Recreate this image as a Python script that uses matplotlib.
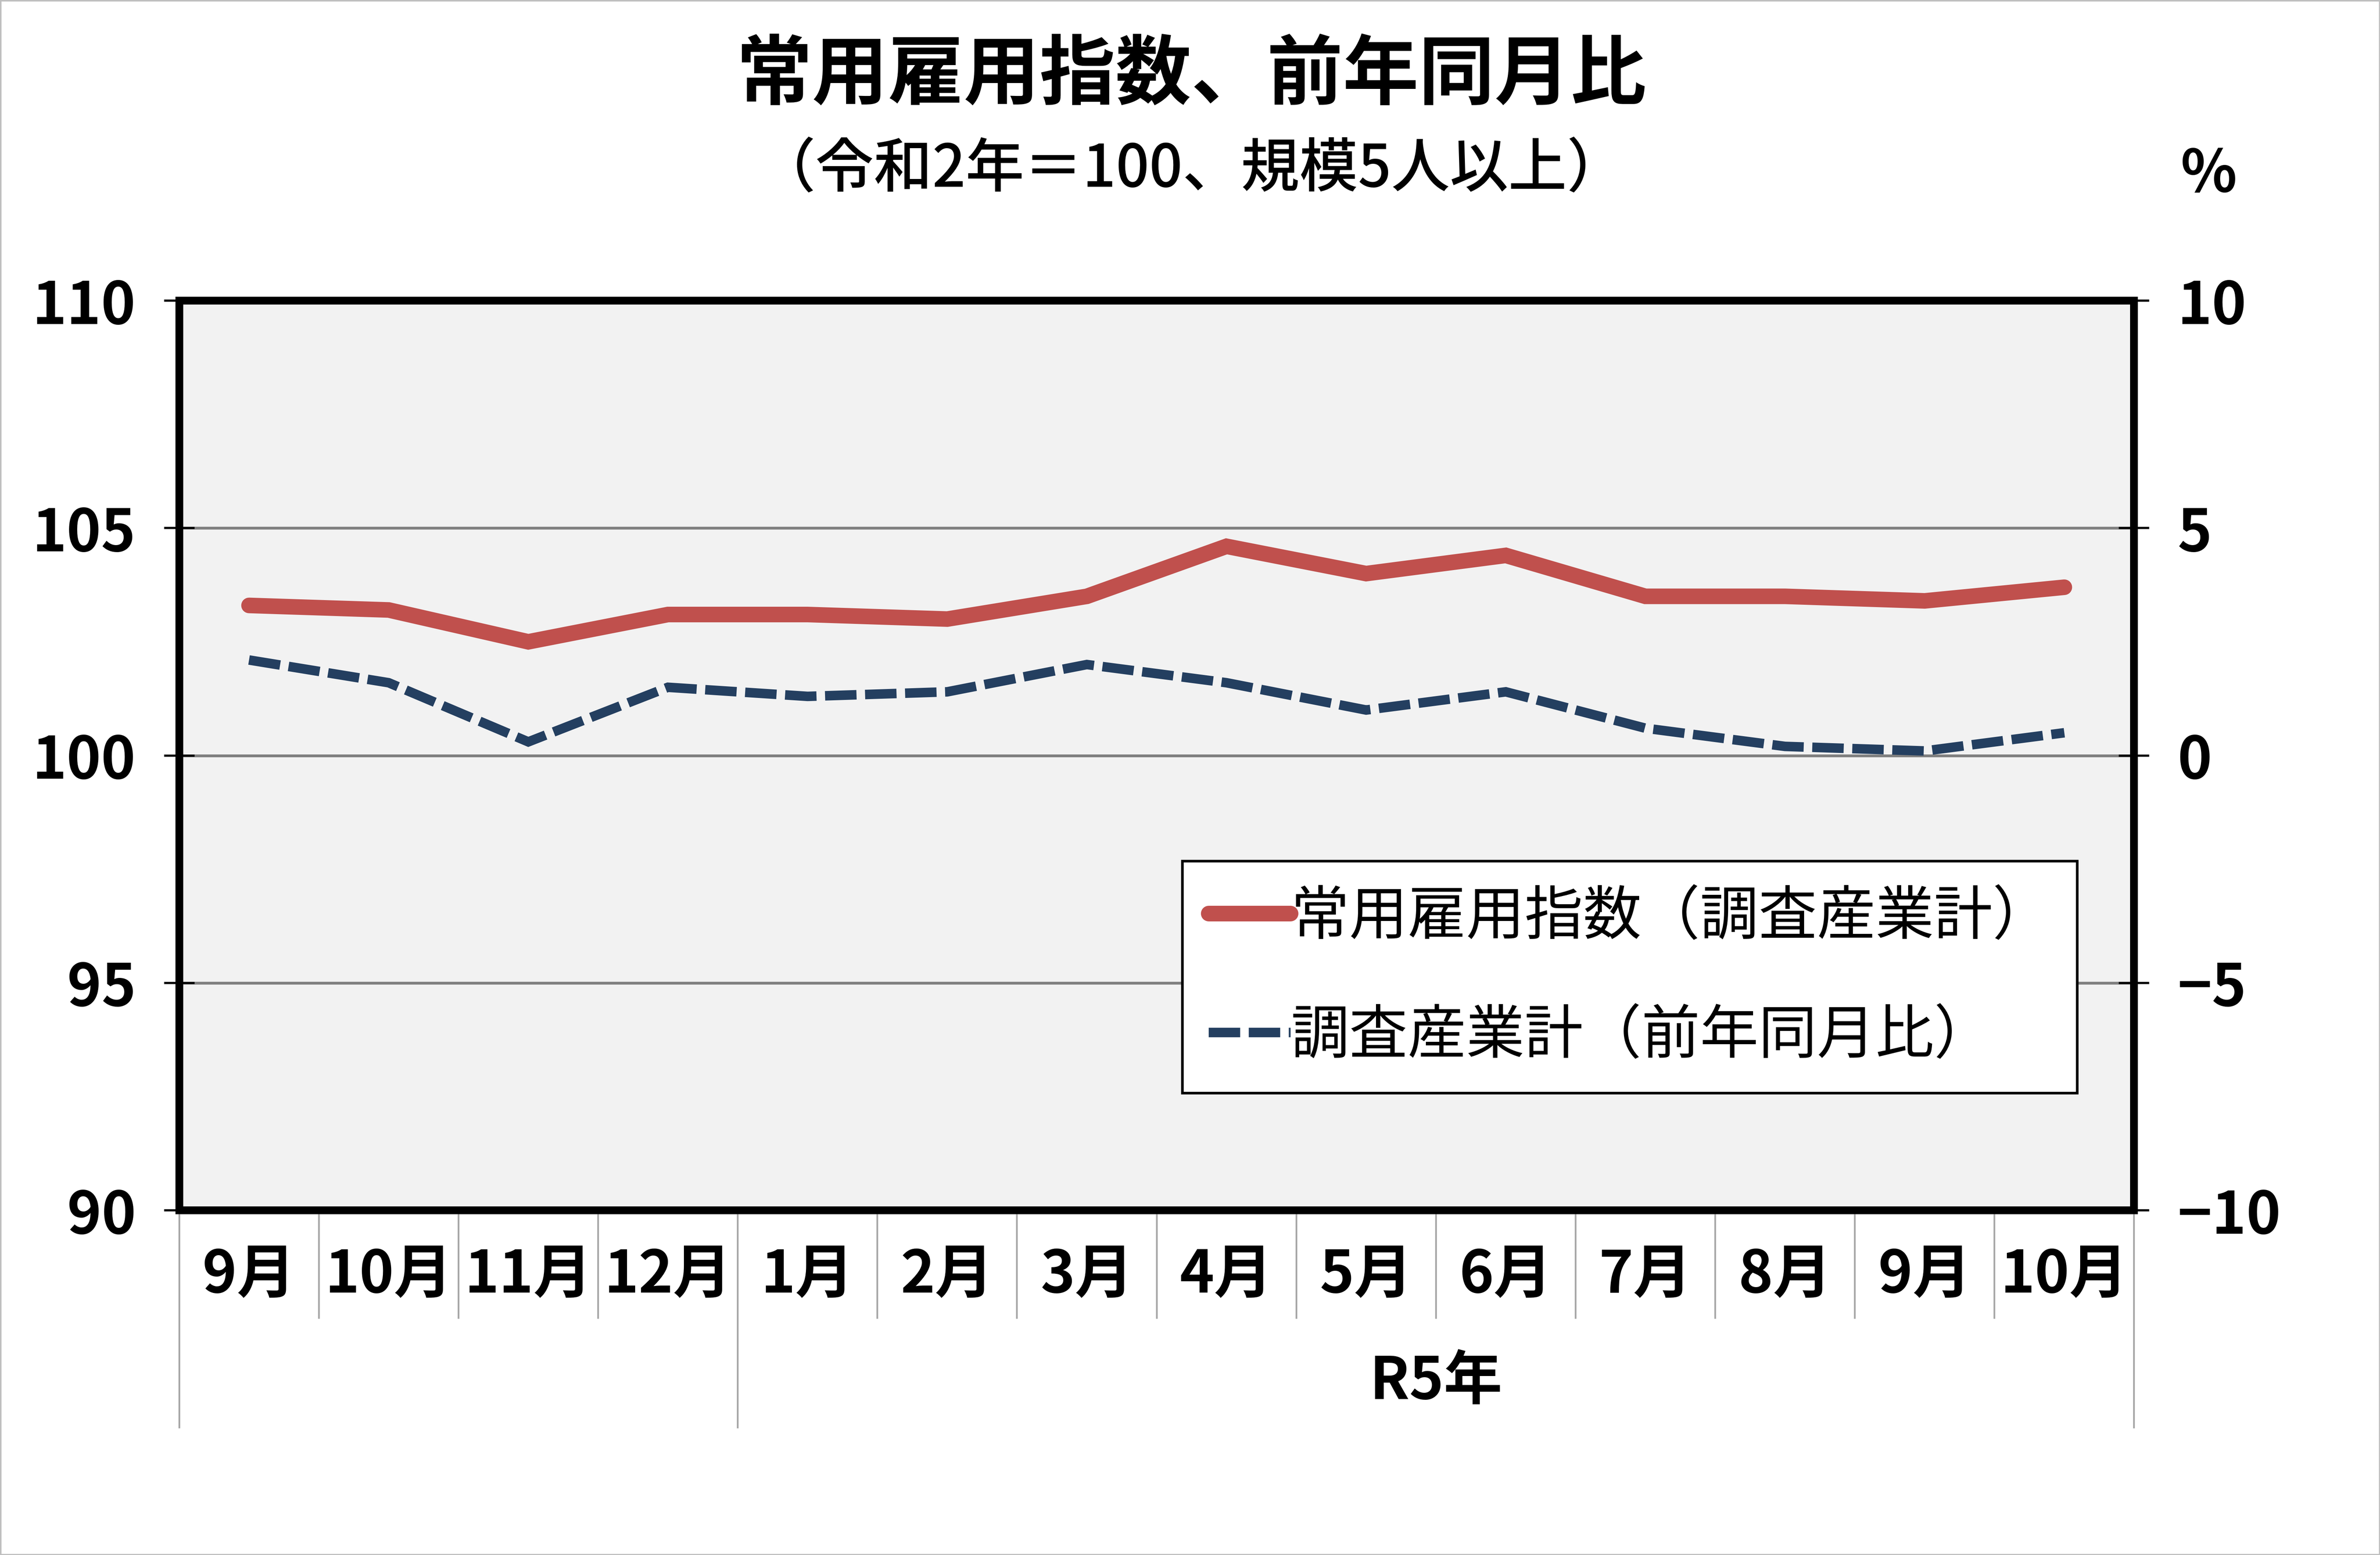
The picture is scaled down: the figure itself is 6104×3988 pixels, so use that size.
import numpy as np
import matplotlib
matplotlib.use("Agg")
import matplotlib.pyplot as plt
from matplotlib.patches import Rectangle

plt.rcParams['font.family'] = ['Noto Sans CJK JP', 'DejaVu Sans']

# data
months = ['9月', '10月', '11月', '12月', '1月', '2月', '3月', '4月',
          '5月', '6月', '7月', '8月', '9月', '10月']
year_label = 'R5年'
year_start = 4  # index of the first month of R5
index_vals = [103.3, 103.2, 102.5, 103.1, 103.1, 103.0, 103.5, 104.6,
              104.0, 104.4, 103.5, 103.5, 103.4, 103.7]
yoy_vals = [2.1, 1.6, 0.3, 1.5, 1.3, 1.4, 2.0, 1.6,
            1.0, 1.4, 0.6, 0.2, 0.1, 0.5]
left_ticks = [90, 95, 100, 105, 110]
right_ticks = [-10, -5, 0, 5, 10]

RED = '#C0504D'
BLUE = '#243F60'
FS = 27

fig = plt.figure(figsize=(15.26, 9.97), dpi=400)
fig.patch.set_facecolor('white')
fig.patches.append(Rectangle((0, 0), 1, 1, transform=fig.transFigure,
                             fill=False, edgecolor='#BFBFBF', lw=1.2))

ax = fig.add_axes([0.0753, 0.2217, 0.8214, 0.5849])
ax.set_facecolor('#F2F2F2')
ax2 = ax.twinx()

n = len(months)
x = np.arange(n) + 0.5

l1, = ax.plot(x, index_vals, color=RED, lw=7.2, solid_joinstyle='miter',
              solid_capstyle='round', label='常用雇用指数（調査産業計）', zorder=3)
l2, = ax2.plot(x, yoy_vals, color=BLUE, lw=4.4, linestyle=(0, (3.3, 0.9)),
               dash_capstyle='butt', dash_joinstyle='miter',
               label='調査産業計（前年同月比）', zorder=3)

ax.set_xlim(0, n)
ax.set_ylim(90, 110)
ax2.set_ylim(-10, 10)
ax.set_yticks(left_ticks)
ax2.set_yticks(right_ticks)
ax.set_yticklabels([str(t) for t in left_ticks], fontsize=FS, fontweight='bold')
ax2.set_yticklabels([str(t).replace('-', '\u2212') for t in right_ticks],
                    fontsize=FS, fontweight='bold')
ax.set_xticks([])

for t in [95, 100, 105]:
    ax.axhline(t, color='#808080', lw=1.3, zorder=1)

ax.tick_params(axis='y', direction='inout', length=14, width=1, pad=13)
ax2.tick_params(axis='y', direction='inout', length=14, width=1, pad=13)

for a in (ax, ax2):
    for s in a.spines.values():
        s.set_linewidth(3.6)
        s.set_color('black')
        s.set_zorder(5)

# category labels and separators
for i, m in enumerate(months):
    ax.text(x[i], -0.0718, m, transform=ax.get_xaxis_transform(),
            ha='center', va='center', fontsize=FS, fontweight='bold')
for i in range(n + 1):
    bottom = -0.2387 if i in (0, year_start, n) else -0.1185
    ax.plot([i, i], [0, bottom], transform=ax.get_xaxis_transform(),
            color='#A6A6A6', lw=0.8, clip_on=False)
ax.text((year_start + n) / 2, -0.1886, year_label,
        transform=ax.get_xaxis_transform(),
        ha='center', va='center', fontsize=FS, fontweight='bold')

# titles
fig.text(0.5006, 0.951, '常用雇用指数、前年同月比', ha='center', va='center',
         fontsize=35, fontweight='bold')
fig.text(0.5006, 0.8906, '（令和2年＝100、規模5人以上）', ha='center', va='center',
         fontsize=27, fontweight='medium')
fig.text(0.928, 0.8877, '%', ha='center', va='center', fontsize=FS, fontweight='bold')

leg = ax2.legend(handles=[l1, l2], loc='upper left',
                 bbox_to_anchor=(0.4968, 0.4463), bbox_transform=fig.transFigure,
                 borderaxespad=0, fontsize=FS, handlelength=1.4,
                 handletextpad=0.0, borderpad=0.45, labelspacing=1.0,
                 fancybox=False, framealpha=1, edgecolor='black')
leg.get_frame().set_linewidth(1.2)
leg.set_zorder(10)

fig.savefig('out.png', dpi=400)
